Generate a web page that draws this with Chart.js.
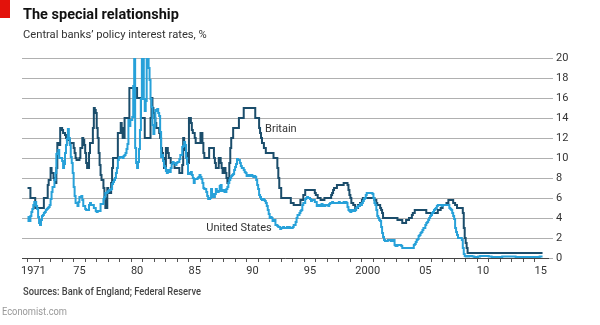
<!DOCTYPE html>
<html>
<head>
<meta charset="utf-8">
<script src="https://cdn.jsdelivr.net/npm/chart.js@4.4.1/dist/chart.umd.min.js"></script>
<style>
  html, body { margin: 0; padding: 0; background: #fff; }
</style>
</head>
<body>
<canvas id="myChart" width="600" height="325"></canvas>
<script>
// monthly policy rates, %, starting January 1971
const startYear = 1971;

const britain = [
  7, 7, 7, 6, 6, 6, 6, 6, 5, 5, 5, 5,                               // 1971
  5, 5, 5, 5, 5, 6, 6, 6, 6, 7.3, 7.8, 7.8,                         // 1972
  9, 8.5, 8.5, 8, 7.8, 7.5, 9, 11.5, 11.5, 11.3, 13, 13,            // 1973
  12.8, 12.5, 12.5, 12.3, 12, 11.8, 11.8, 11.8, 11.5, 11.5, 11.5, 11.5, // 1974
  11, 10.5, 10, 9.8, 9.8, 9.8, 10, 11, 11, 12, 11.8, 11.3,          // 1975
  10.5, 9.5, 9, 9, 10.5, 11.5, 11.5, 11.5, 13, 15, 14.8, 14.5,      // 1976
  13, 12, 10.5, 9.3, 8.3, 7.8, 7.8, 7, 6, 5, 5, 7,                  // 1977
  6.5, 6.5, 6.5, 7.5, 9, 10, 10, 10, 10, 10, 12.5, 12.5,            // 1978
  12.5, 13.5, 13, 12, 12, 14, 14, 14, 14, 14, 17, 17,               // 1979
  17, 17, 17, 17, 17, 17, 16, 16, 16, 16, 14, 14,                   // 1980
  14, 14, 12, 12, 12, 12, 12, 12, 14, 16, 15, 14.5,                 // 1981
  14, 13.5, 13, 13, 13, 12.5, 12, 11, 10.5, 10, 9, 9,               // 1982
  11, 11, 10.5, 10, 10, 9.5, 9.5, 9.5, 9.5, 9, 9, 9,                // 1983
  9, 9, 8.5, 8.5, 8.5, 9.3, 12, 11, 10.8, 10.5, 10, 9.5,            // 1984
  14, 14, 13.5, 12.8, 12.5, 12.5, 12, 11.5, 11.5, 11.5, 11.5, 11.5, // 1985
  12.5, 12.5, 11.5, 10.5, 10, 10, 10, 10, 10, 11, 11, 11,           // 1986
  11, 11, 10, 9.5, 9, 9, 9, 10, 10, 9.5, 9, 8.5,                    // 1987
  8.5, 9, 8.5, 8, 7.5, 8, 9.5, 11, 12, 12, 13, 13,                  // 1988
  13, 13, 13, 13, 14, 14, 14, 14, 14, 15, 15, 15,                   // 1989
  15, 15, 15, 15, 15, 15, 15, 15, 15, 14, 14, 14,                   // 1990
  14, 13, 12.5, 12, 11.5, 11.5, 11, 11, 10.5, 10.5, 10.5, 10.5,     // 1991
  10.5, 10.5, 10.5, 10.5, 10, 10, 10, 10, 9, 8, 7, 7,               // 1992
  6, 6, 6, 6, 6, 6, 6, 6, 6, 6, 5.5, 5.5,                           // 1993
  5.5, 5.3, 5.3, 5.3, 5.3, 5.3, 5.3, 5.3, 5.8, 5.8, 5.8, 6.3,       // 1994
  6.3, 6.8, 6.8, 6.8, 6.8, 6.8, 6.8, 6.8, 6.8, 6.8, 6.8, 6.5,       // 1995
  6.3, 6.3, 6, 6, 6, 5.8, 5.8, 5.8, 5.8, 6, 6, 6,                   // 1996
  6, 6, 6, 6, 6.3, 6.5, 6.8, 7, 7, 7, 7.3, 7.3,                     // 1997
  7.3, 7.3, 7.3, 7.3, 7.3, 7.5, 7.5, 7.5, 7.5, 7.3, 6.8, 6.3,       // 1998
  6, 5.5, 5.5, 5.3, 5.3, 5, 5, 5, 5.3, 5.3, 5.5, 5.5,               // 1999
  5.8, 6, 6, 6, 6, 6, 6, 6, 6, 6, 6, 6,                             // 2000
  6, 5.8, 5.8, 5.5, 5.3, 5.3, 5.3, 5, 4.8, 4.5, 4, 4,               // 2001
  4, 4, 4, 4, 4, 4, 4, 4, 4, 4, 4, 4,                               // 2002
  4, 3.8, 3.8, 3.8, 3.8, 3.8, 3.5, 3.5, 3.5, 3.5, 3.8, 3.8,         // 2003
  3.8, 4, 4, 4, 4.3, 4.5, 4.5, 4.8, 4.8, 4.8, 4.8, 4.8,             // 2004
  4.8, 4.8, 4.8, 4.8, 4.8, 4.8, 4.8, 4.5, 4.5, 4.5, 4.5, 4.5,       // 2005
  4.5, 4.5, 4.5, 4.5, 4.5, 4.5, 4.5, 4.8, 4.8, 4.8, 5, 5,           // 2006
  5.3, 5.3, 5.3, 5.3, 5.5, 5.5, 5.8, 5.8, 5.8, 5.8, 5.8, 5.5,       // 2007
  5.5, 5.3, 5.3, 5, 5, 5, 5, 5, 5, 4.5, 3, 2,                       // 2008
  1.5, 1, 0.5, 0.5, 0.5, 0.5, 0.5, 0.5, 0.5, 0.5, 0.5, 0.5,         // 2009
  0.5, 0.5, 0.5, 0.5, 0.5, 0.5, 0.5, 0.5, 0.5, 0.5, 0.5, 0.5,       // 2010
  0.5, 0.5, 0.5, 0.5, 0.5, 0.5, 0.5, 0.5, 0.5, 0.5, 0.5, 0.5,       // 2011
  0.5, 0.5, 0.5, 0.5, 0.5, 0.5, 0.5, 0.5, 0.5, 0.5, 0.5, 0.5,       // 2012
  0.5, 0.5, 0.5, 0.5, 0.5, 0.5, 0.5, 0.5, 0.5, 0.5, 0.5, 0.5,       // 2013
  0.5, 0.5, 0.5, 0.5, 0.5, 0.5, 0.5, 0.5, 0.5, 0.5, 0.5, 0.5,       // 2014
  0.5, 0.5, 0.5, 0.5, 0.5, 0.5, 0.5, 0.5                            // 2015
];

const unitedStates = [
  4.1, 3.7, 3.7, 4.2, 4.6, 4.9, 5.3, 5.6, 5.6, 5.2, 4.9, 4.1,       // 1971
  3.5, 3.3, 3.8, 4.2, 4.3, 4.5, 4.6, 4.8, 4.9, 5, 5.1, 5.3,         // 1972
  5.9, 6.6, 7.1, 7.1, 7.8, 8.5, 10.4, 10.5, 10.8, 10, 10, 10,       // 1973
  9.7, 9, 9.4, 10.5, 11.3, 11.9, 12.9, 12, 11.3, 10.1, 9.5, 8.5,    // 1974
  7.1, 6.2, 5.5, 5.5, 5.2, 5.6, 6.1, 6.1, 6.2, 5.8, 5.2, 5.2,       // 1975
  4.9, 4.8, 4.8, 4.8, 5.3, 5.5, 5.3, 5.3, 5.3, 5, 5, 4.7,           // 1976
  4.6, 4.7, 4.7, 4.7, 5.4, 5.4, 5.4, 5.9, 6.1, 6.5, 6.5, 6.6,       // 1977
  6.7, 6.8, 6.8, 6.9, 7.4, 7.6, 7.8, 8, 8.5, 9, 9.8, 10,            // 1978
  10.1, 10.1, 10.1, 10, 10.2, 10.3, 10.5, 10.9, 11.4, 13.8, 13.2, 13.8, // 1979
  13.8, 14.1, 17.2, 21, 11, 9.5, 9, 9.6, 10.9, 12.8, 15.9, 20.8,    // 1980
  21, 15.9, 14.7, 15.7, 20.5, 21, 19, 17.8, 15.9, 15.1, 13.3, 12.4, // 1981
  13.2, 14.8, 14.7, 14.9, 14.5, 14.2, 12.6, 10.1, 10.3, 9.7, 9.2, 9, // 1982
  8.7, 8.5, 8.8, 8.8, 8.6, 9, 9.4, 9.6, 9.5, 9.5, 9.3, 9.5,         // 1983
  9.6, 9.6, 9.9, 10.3, 10.3, 11.1, 11.2, 11.6, 11.3, 10, 9.4, 8.4,  // 1984
  8.4, 8.5, 8.6, 8.3, 8, 7.5, 7.9, 7.9, 7.9, 8, 8.1, 8.3,           // 1985
  8.1, 7.9, 7.5, 7, 6.9, 6.9, 6.6, 6.2, 5.9, 5.9, 6, 6.9,           // 1986
  6.4, 6.1, 6.1, 6.4, 6.9, 6.7, 6.6, 6.7, 7.2, 7.3, 6.7, 6.8,       // 1987
  6.8, 6.6, 6.6, 6.9, 7.1, 7.5, 7.8, 8, 8.2, 8.3, 8.4, 8.8,         // 1988
  9.1, 9.4, 9.9, 9.8, 9.8, 9.5, 9.2, 9, 9, 8.8, 8.6, 8.5,           // 1989
  8.2, 8.2, 8.3, 8.3, 8.2, 8.3, 8.2, 8.1, 8.2, 8.1, 7.8, 7.3,       // 1990
  6.9, 6.3, 6.1, 5.9, 5.8, 5.9, 5.8, 5.7, 5.5, 5.2, 4.8, 4.4,       // 1991
  4, 4.1, 4, 3.7, 3.8, 3.8, 3.3, 3.3, 3.2, 3.1, 3.1, 2.9,           // 1992
  3, 3, 3.1, 3, 3, 3, 3.1, 3, 3.1, 3, 3, 3,                         // 1993
  3.1, 3.3, 3.3, 3.6, 4, 4.3, 4.3, 4.5, 4.7, 4.8, 5.3, 5.5,         // 1994
  5.5, 5.9, 6, 6.1, 6, 6, 5.9, 5.7, 5.8, 5.8, 5.8, 5.6,             // 1995
  5.6, 5.2, 5.3, 5.2, 5.2, 5.3, 5.4, 5.2, 5.3, 5.2, 5.3, 5.3,       // 1996
  5.3, 5.2, 5.4, 5.5, 5.5, 5.6, 5.5, 5.5, 5.5, 5.5, 5.5, 5.5,       // 1997
  5.6, 5.5, 5.5, 5.5, 5.5, 5.6, 5.5, 5.6, 5.5, 5.1, 4.8, 4.7,       // 1998
  4.6, 4.8, 4.8, 4.7, 4.7, 4.8, 5, 5.1, 5.2, 5.2, 5.4, 5.3,         // 1999
  5.5, 5.7, 5.9, 6, 6.3, 6.5, 6.5, 6.5, 6.5, 6.5, 6.5, 6.4,         // 2000
  6, 5.5, 5.3, 4.8, 4.2, 4, 3.8, 3.7, 3.1, 2.5, 2.1, 1.8,           // 2001
  1.7, 1.7, 1.7, 1.8, 1.8, 1.8, 1.7, 1.7, 1.8, 1.8, 1.3, 1.2,       // 2002
  1.2, 1.3, 1.3, 1.3, 1.3, 1.2, 1, 1, 1, 1, 1, 1,                   // 2003
  1, 1, 1, 1, 1, 1, 1.3, 1.4, 1.6, 1.8, 1.9, 2.2,                   // 2004
  2.3, 2.5, 2.6, 2.8, 3, 3, 3.3, 3.5, 3.6, 3.8, 4, 4.2,             // 2005
  4.3, 4.5, 4.6, 4.8, 4.9, 5, 5.2, 5.3, 5.3, 5.3, 5.3, 5.2,         // 2006
  5.3, 5.3, 5.3, 5.3, 5.3, 5.3, 5.3, 5, 4.9, 4.8, 4.5, 4.2,         // 2007
  3.9, 3, 2.6, 2.3, 2, 2, 2, 2, 1.8, 1, 0.4, 0.2,                   // 2008
  0.15, 0.2, 0.2, 0.15, 0.2, 0.2, 0.2, 0.15, 0.15, 0.1, 0.1, 0.1,   // 2009
  0.1, 0.15, 0.15, 0.2, 0.2, 0.2, 0.2, 0.2, 0.2, 0.2, 0.2, 0.2,     // 2010
  0.15, 0.15, 0.15, 0.1, 0.1, 0.1, 0.1, 0.1, 0.1, 0.1, 0.1, 0.1,    // 2011
  0.1, 0.1, 0.15, 0.15, 0.15, 0.15, 0.15, 0.15, 0.15, 0.15, 0.15, 0.15, // 2012
  0.15, 0.15, 0.15, 0.15, 0.1, 0.1, 0.1, 0.1, 0.1, 0.1, 0.1, 0.1,   // 2013
  0.1, 0.1, 0.1, 0.1, 0.1, 0.1, 0.1, 0.1, 0.1, 0.1, 0.1, 0.1,       // 2014
  0.1, 0.1, 0.1, 0.1, 0.1, 0.15, 0.15, 0.15                         // 2015
];

const labelYears = [1971, 1975, 1980, 1985, 1990, 1995, 2000, 2005, 2010, 2015];
const yearLabels = ['1971', '75', '80', '85', '90', '95', '2000', '05', '10', '15'];

// month index -> {x: decimal year, y: rate}, plus an end point so the last month gets its step
function toPoints(values) {
  const pts = values.map((v, i) => ({ x: startYear + i / 12, y: v }));
  pts.push({ x: startYear + values.length / 12, y: values[values.length - 1] });
  return pts;
}

const darkBlue = '#1b4d6b';
const lightBlue = '#27a1d9';
const textColour = '#333';
const font = 'Roboto';

// draws text squeezed horizontally to a given width (the house font is narrow)
function fitText(c, text, x, y, width) {
  const w = c.measureText(text).width;
  c.save();
  c.translate(x, y);
  c.scale(Math.min(1, width / w), 1);
  c.fillText(text, 0, 0);
  c.restore();
}

const decorations = {
  id: 'decorations',
  afterDraw(chart) {
    const c = chart.ctx;
    const x = chart.scales.x, y = chart.scales.y;
    c.save();
    c.fillStyle = '#e3120b';
    c.fillRect(0, 0, 10, 18);

    c.textBaseline = 'alphabetic';
    c.textAlign = 'left';
    c.fillStyle = '#111';
    c.font = 'bold 14.5px ' + font;
    fitText(c, 'The special relationship', 23, 18.5, 156);
    c.fillStyle = '#333';
    c.font = '11.2px ' + font;
    fitText(c, 'Central banks\u2019 policy interest rates, %', 23, 37.5, 186);

    c.fillStyle = '#444';
    c.font = '500 10.5px ' + font;
    fitText(c, 'Sources: Bank of England; Federal Reserve', 23, 294.5, 178);
    c.fillStyle = '#999';
    c.font = '10.5px ' + font;
    fitText(c, 'Economist.com', 2, 315, 65);

    // series names next to the lines
    c.fillStyle = textColour;
    c.font = '11px ' + font;
    c.textBaseline = 'middle';
    c.fillText('Britain', x.getPixelForValue(1991.6), y.getPixelForValue(12.9));
    c.fillText('United States', x.getPixelForValue(1986.5), y.getPixelForValue(3.0));
    c.restore();
  }
};

const ctx = document.getElementById('myChart');

const configuracion = {
  type: 'line',
  data: {
    datasets: [
      {
        label: 'United States',
        data: toPoints(unitedStates),
        borderColor: lightBlue,
        borderWidth: 2,
        pointRadius: 0,
        stepped: true,
        fill: false
      },
      {
        label: 'Britain',
        data: toPoints(britain),
        borderColor: darkBlue,
        borderWidth: 2,
        pointRadius: 0,
        stepped: true,
        fill: false
      }
    ]
  },
  options: {
    responsive: false,
    animation: false,
    devicePixelRatio: 1,
    layout: { padding: { top: 58, left: 22, right: 0, bottom: 45 } },
    plugins: {
      legend: { display: false },
      tooltip: { enabled: false }
    },
    scales: {
      x: {
        type: 'linear',
        min: 1970.52,
        max: 2016.14,
        afterBuildTicks(scale) {
          const t = [];
          for (let yr = 1971; yr <= 2015; yr++) t.push({ value: yr });
          scale.ticks = t;
        },
        afterFit(scale) { scale.height = 22; },
        ticks: {
          autoSkip: false,
          maxRotation: 0,
          labelOffset: 5.8,
          padding: 3,
          color: textColour,
          font: { family: font, size: 11 },
          callback(v) {
            const i = labelYears.indexOf(v);
            return i >= 0 ? yearLabels[i] : '';
          }
        },
        grid: {
          display: true,
          drawOnChartArea: false,
          drawTicks: true,
          tickLength: 4,
          color: '#555'
        },
        border: { display: true, color: '#444', width: 1 }
      },
      y: {
        position: 'right',
        min: 0,
        max: 20,
        afterFit(scale) { scale.width = 52; },
        ticks: {
          stepSize: 2,
          padding: 3,
          color: textColour,
          font: { family: font, size: 11 }
        },
        grid: {
          color: '#b0b0b0',
          tickLength: 5
        },
        border: { display: false }
      }
    }
  },
  plugins: [decorations]
};

const grafica = new Chart(ctx, configuracion);
</script>
</body>
</html>
